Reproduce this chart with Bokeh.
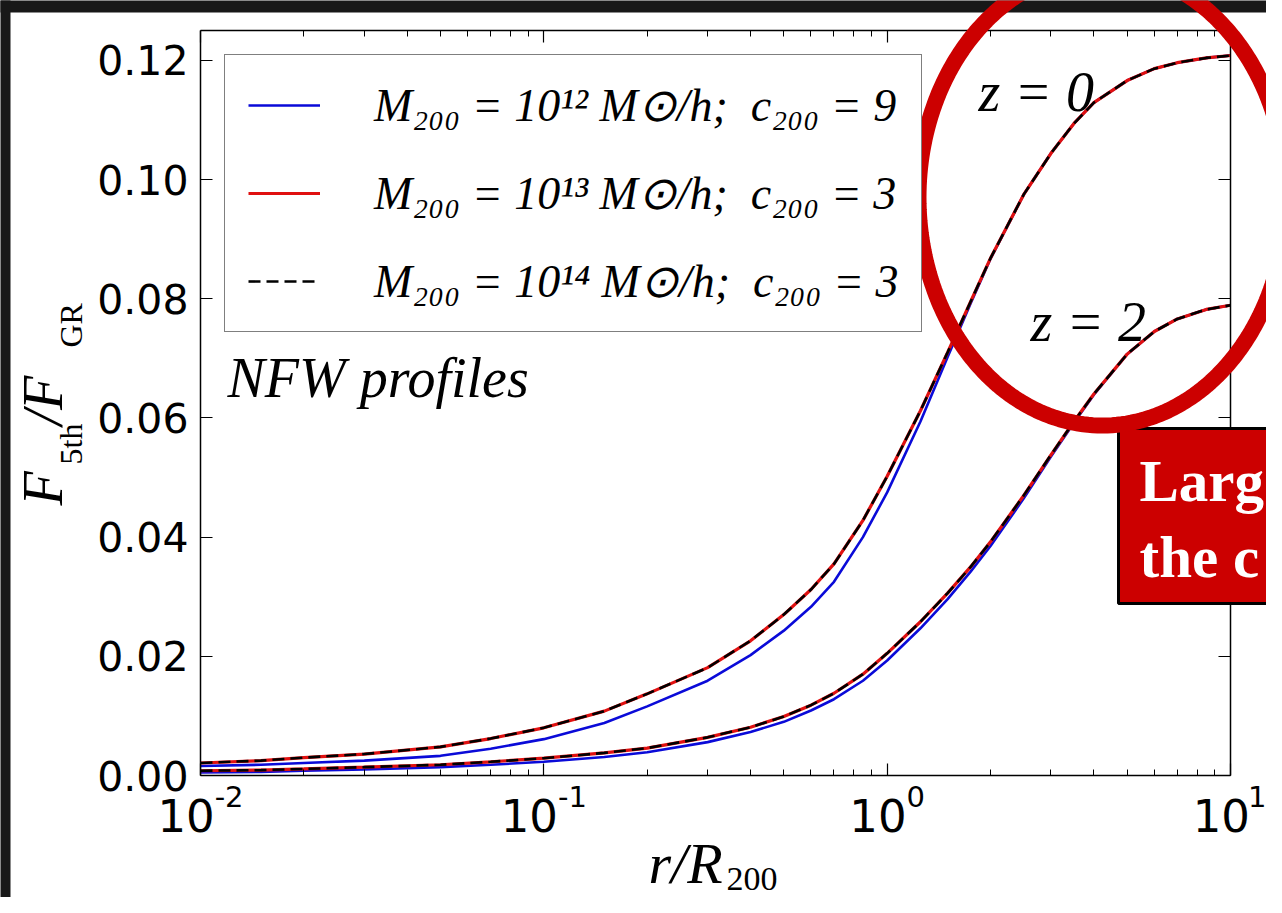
import math
from bokeh.plotting import figure
from bokeh.models import (Range1d, FixedTicker, LogAxis, LinearAxis, Legend, LegendItem,
                          Label, PolyAnnotation, BoxAnnotation, CustomJSTickFormatter)
from bokeh.embed import file_html
from bokeh.resources import INLINE

# ---------------- data ----------------
r_over_R200 = [0.01, 0.015, 0.02, 0.03, 0.05, 0.07, 0.1, 0.15, 0.2, 0.3, 0.4, 0.5, 0.6, 0.7, 0.85,
               1.0, 1.25, 1.5, 1.75, 2.0, 2.5, 3.0, 3.5, 4.0, 5.0, 6.0, 7.0, 8.5, 10.0]

# z = 0
z0_M12_c9 = [0.0016, 0.0018, 0.0021, 0.0025, 0.0033, 0.0045, 0.0061, 0.0088, 0.0116, 0.0159, 0.0202,
             0.0243, 0.0283, 0.0325, 0.0400, 0.0475, 0.0594, 0.0702, 0.0792, 0.0867, 0.0975, 0.1044,
             0.1094, 0.1129, 0.1166, 0.1186, 0.1196, 0.1204, 0.1208]
z0_M13_c3 = [0.0021, 0.0025, 0.0030, 0.0036, 0.0048, 0.0062, 0.0080, 0.0108, 0.0137, 0.0181, 0.0226,
             0.0270, 0.0312, 0.0355, 0.0428, 0.0502, 0.0612, 0.0710, 0.0795, 0.0868, 0.0975, 0.1044,
             0.1094, 0.1129, 0.1166, 0.1186, 0.1196, 0.1204, 0.1208]
z0_M14_c3 = [0.0021, 0.0025, 0.0030, 0.0036, 0.0048, 0.0062, 0.0080, 0.0108, 0.0137, 0.0181, 0.0226,
             0.0270, 0.0312, 0.0355, 0.0428, 0.0502, 0.0612, 0.0710, 0.0795, 0.0868, 0.0975, 0.1044,
             0.1094, 0.1129, 0.1166, 0.1186, 0.1196, 0.1204, 0.1208]

# z = 2
z2_M12_c9 = [0.0005, 0.0006, 0.0008, 0.0010, 0.0014, 0.0018, 0.0023, 0.0031, 0.0039, 0.0056, 0.0073,
             0.0090, 0.0109, 0.0128, 0.0159, 0.0193, 0.0247, 0.0296, 0.0342, 0.0385, 0.0465, 0.0535,
             0.0592, 0.0639, 0.0707, 0.0745, 0.0766, 0.0782, 0.0789]
z2_M13_c3 = [0.0008, 0.0009, 0.0011, 0.0014, 0.0018, 0.0023, 0.0029, 0.0038, 0.0046, 0.0064, 0.0081,
             0.0099, 0.0118, 0.0138, 0.0170, 0.0205, 0.0258, 0.0306, 0.0350, 0.0392, 0.0470, 0.0538,
             0.0594, 0.0640, 0.0707, 0.0745, 0.0766, 0.0782, 0.0789]
z2_M14_c3 = [0.0008, 0.0009, 0.0011, 0.0014, 0.0018, 0.0023, 0.0029, 0.0038, 0.0046, 0.0064, 0.0081,
             0.0099, 0.0118, 0.0138, 0.0170, 0.0205, 0.0258, 0.0306, 0.0350, 0.0392, 0.0470, 0.0538,
             0.0594, 0.0640, 0.0707, 0.0745, 0.0766, 0.0782, 0.0789]

legend_labels = [
    "M\u2082\u2080\u2080 = 10\u00b9\u00b2 M\u2299/h;  c\u2082\u2080\u2080 = 9",
    "M\u2082\u2080\u2080 = 10\u00b9\u00b3 M\u2299/h;  c\u2082\u2080\u2080 = 3",
    "M\u2082\u2080\u2080 = 10\u00b9\u2074 M\u2299/h;  c\u2082\u2080\u2080 = 3",
]

x_ticks = [0.01, 0.1, 1.0, 10.0]
x_tick_bases = ["10", "10", "10", "10"]
x_tick_exponents = ["-2", "-1", "0", "1"]
x_minor_ticks = [0.02, 0.03, 0.04, 0.05, 0.06, 0.07, 0.08, 0.09,
                 0.2, 0.3, 0.4, 0.5, 0.6, 0.7, 0.8, 0.9,
                 2.0, 3.0, 4.0, 5.0, 6.0, 7.0, 8.0, 9.0]
y_ticks = [0.0, 0.02, 0.04, 0.06, 0.08, 0.1, 0.12]
y_tick_labels = ["0.00", "0.02", "0.04", "0.06", "0.08", "0.10", "0.12"]

callout_lines = ["Larg", "the c"]

# ---------------- geometry ----------------
W, H = 1266, 897
PX_L, PX_R, PX_T, PX_B = 200, 1230, 30, 775       # plot box, canvas pixels
X_LO, X_HI, Y_LO, Y_HI = 0.01, 10.0, 0.0, 0.125
DEC = math.log10(X_HI / X_LO)


def xd(px):
    return X_LO * 10 ** (DEC * (px - PX_L) / (PX_R - PX_L))


def yd(py):
    return Y_LO + (Y_HI - Y_LO) * (PX_B - py) / (PX_B - PX_T)


def xpx(v):
    return PX_L + (PX_R - PX_L) * math.log10(v / X_LO) / DEC


p = figure(width=W, height=H, x_axis_type="log",
           x_range=Range1d(xd(0), xd(W)), y_range=Range1d(yd(H), yd(0)),
           output_backend="svg", toolbar_location=None, min_border=0)
p.title.visible = False
p.xgrid.visible = False
p.ygrid.visible = False
p.outline_line_color = None
p.background_fill_color = "white"
p.border_fill_color = "white"

blank = CustomJSTickFormatter(code="return ''")
xticker = FixedTicker(ticks=x_ticks, minor_ticks=x_minor_ticks)
yticker = FixedTicker(ticks=y_ticks)


def spine_style(ax):
    ax.axis_line_color = "black"
    ax.axis_line_width = 1.5
    ax.major_tick_in = 12
    ax.major_tick_out = 0
    ax.minor_tick_in = 6
    ax.minor_tick_out = 0
    ax.major_tick_line_color = "black"
    ax.minor_tick_line_color = "black"
    ax.major_tick_line_width = 1.2
    ax.minor_tick_line_width = 1.0


# bottom spine (ticks only)
xa = p.xaxis[0]
xa.fixed_location = Y_LO
xa.bounds = (X_LO, X_HI)
xa.ticker = xticker
xa.formatter = blank
xa.major_label_text_font_size = "1px"
spine_style(xa)

# left spine with labels
ya = p.yaxis[0]
ya.fixed_location = X_LO
ya.bounds = (Y_LO, Y_HI)
ya.ticker = yticker
ya.major_label_overrides = dict(zip(y_ticks, y_tick_labels))
ya.major_label_text_font = "DejaVu Sans"
ya.major_label_text_font_size = "41px"
ya.major_label_text_color = "black"
ya.major_label_standoff = 12
spine_style(ya)
ya.minor_tick_in = 0

# top and right spines (ticks only)
top_ax = LogAxis(fixed_location=Y_HI, bounds=(X_LO, X_HI), ticker=xticker, formatter=blank,
                 major_label_text_font_size="1px")
spine_style(top_ax)
right_ax = LinearAxis(fixed_location=X_HI, bounds=(Y_LO, Y_HI), ticker=yticker, formatter=blank,
                      major_label_text_font_size="1px")
spine_style(right_ax)
right_ax.minor_tick_in = 0
p.add_layout(top_ax, "above")
p.add_layout(right_ax, "right")

# x tick labels: "10" with a raised exponent (matplotlib style)
BASE_FS, EXP_FS = 45, 29
DIG, HYP = 0.636, 0.361
w10 = 2 * DIG * BASE_FS
x_base_pos = []
x_exp_pos = []
for t, e in zip(x_ticks, x_tick_exponents):
    we = sum(HYP if c == "-" else DIG for c in e) * EXP_FS
    x_base_pos.append(xd(xpx(t) - we / 2))
    x_exp_pos.append(xd(xpx(t) + w10 / 2))

for pos, labels, fs, standoff in ((x_base_pos, x_tick_bases, BASE_FS, 23),
                                  (x_exp_pos, x_tick_exponents, EXP_FS, 10)):
    ax = LogAxis(fixed_location=Y_LO, ticker=FixedTicker(ticks=pos),
                 major_label_overrides=dict(zip(pos, labels)),
                 axis_line_color=None, major_tick_line_color=None, minor_tick_line_color=None,
                 major_tick_in=0, major_tick_out=0, minor_tick_in=0, minor_tick_out=0,
                 major_label_text_font="DejaVu Sans", major_label_text_font_size=f"{fs}px",
                 major_label_text_color="black", major_label_standoff=standoff)
    p.add_layout(ax, "below")

# slide decoration: dark frame edges
DARK = "#181818"
p.add_layout(BoxAnnotation(left=xd(-20), right=xd(10), bottom=yd(H + 20), top=yd(-20),
                           fill_color=DARK, fill_alpha=1.0, line_alpha=0, level="underlay"))
p.add_layout(BoxAnnotation(left=xd(-20), right=xd(W + 20), bottom=yd(12), top=yd(-20),
                           fill_color=DARK, fill_alpha=1.0, line_alpha=0, level="underlay"))

# ---------------- curves ----------------
BLUE = "#0a0ad8"
RED = "#e01010"
DASH = "12 6"

b0 = p.line(r_over_R200, z0_M12_c9, line_color=BLUE, line_width=2.6)
b2 = p.line(r_over_R200, z2_M12_c9, line_color=BLUE, line_width=2.6)
r0 = p.line(r_over_R200, z0_M13_c3, line_color=RED, line_width=3.2)
r2 = p.line(r_over_R200, z2_M13_c3, line_color=RED, line_width=3.2)
k0 = p.line(r_over_R200, z0_M14_c3, line_color="black", line_width=2.6, line_dash=DASH)
k2 = p.line(r_over_R200, z2_M14_c3, line_color="black", line_width=2.6, line_dash=DASH)

legend = Legend(items=[LegendItem(label=legend_labels[0], renderers=[b0]),
                       LegendItem(label=legend_labels[1], renderers=[r0]),
                       LegendItem(label=legend_labels[2], renderers=[k0])],
                location=(224, H - 332))
legend.border_line_color = "black"
legend.border_line_width = 1.5
legend.background_fill_color = "white"
legend.background_fill_alpha = 1.0
legend.label_text_font = "Liberation Serif"
legend.label_text_font_style = "italic"
legend.label_text_font_size = "46px"
legend.label_text_color = "black"
legend.glyph_width = 72
legend.glyph_height = 46
legend.label_height = 46
legend.label_standoff = 54
legend.padding = 23
legend.spacing = 34
legend.margin = 0
p.add_layout(legend)

serif = "Liberation Serif"
BASE_SHIFT = 0.36   # measured offset of this renderer's alphabetic baseline, in em


def txt(px, py, s, size, style="normal", angle=0.0, color="black", level="annotation"):
    # (px, py): wanted baseline start in canvas pixels
    d = BASE_SHIFT * size
    if angle:
        px -= d
    else:
        py -= d
    p.add_layout(Label(x=xd(px), y=yd(py), text=s, angle=angle, text_font=serif,
                       text_font_style=style, text_font_size=f"{size}px", text_color=color,
                       text_align="left", text_baseline="alphabetic", level=level))


# axis labels
txt(648, 884, "r/R", 58, "italic")
txt(726, 891, "200", 34)
rot = math.pi / 2
txt(63, 505, "F", 56, "italic", rot)
txt(82, 464, "5th", 32, "normal", rot)
txt(63, 425, "/F", 56, "italic", rot)
txt(82, 347, "GR", 32, "normal", rot)

# in-plot texts
txt(227, 398, "NFW profiles", 56, "italic")
txt(978, 112, "z = 0", 56, "italic")
txt(1030, 342, "z = 2", 56, "italic")

# slide overlay: red call-out box, red ellipse, call-out text
p.add_layout(BoxAnnotation(left=xd(1118), right=xd(W + 40), top=yd(428), bottom=yd(603),
                           fill_color="#cc0000", fill_alpha=1.0, line_color="black",
                           line_alpha=1.0, line_width=3, level="overlay"))

ECX, ECY, EA, EB = 1102, 197, 184, 228
angles = [2 * math.pi * i / 240 for i in range(241)]
ell_x = [xd(ECX + EA * math.cos(t)) for t in angles]
ell_y = [yd(ECY + EB * math.sin(t)) for t in angles]
p.add_layout(PolyAnnotation(xs=ell_x, ys=ell_y, fill_color=None, fill_alpha=0,
                            line_color="#cc0000", line_alpha=1.0, line_width=16, level="overlay"))

txt(1139, 502, callout_lines[0], 59, "bold", color="white", level="overlay")
txt(1139, 578, callout_lines[1], 59, "bold", color="white", level="overlay")

open("out.html", "w").write(file_html(p, INLINE))
